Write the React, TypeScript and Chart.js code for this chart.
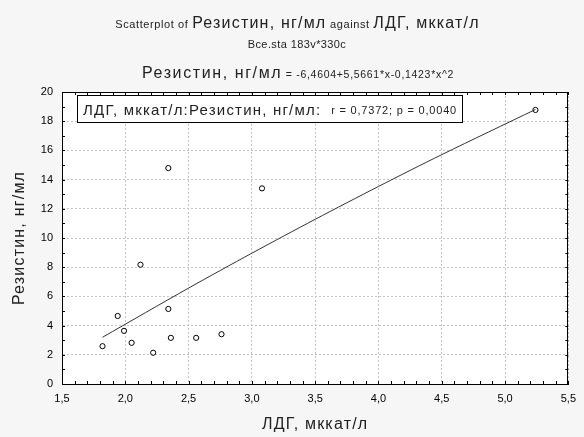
import React, { useEffect, useRef } from 'react';
import { Chart, registerables } from 'chart.js';

Chart.register(...registerables);

const FONT = '"Liberation Sans", Arial, sans-serif';

// Data
const ldgValues = [1.82, 1.94, 1.99, 2.05, 2.12, 2.22, 2.34, 2.34, 2.36, 2.56, 2.76, 3.08, 5.24];
const rezistinValues = [2.59, 4.66, 3.64, 2.82, 8.17, 2.14, 14.79, 5.14, 3.16, 3.16, 3.41, 13.4, 18.77];
const fitX = [1.82, 2.5, 3.0, 3.5, 4.0, 4.5, 5.24];
const fitY = [3.2, 6.57, 8.96, 11.28, 13.53, 15.71, 18.8];
const xTickValues = [1.5, 2.0, 2.5, 3.0, 3.5, 4.0, 4.5, 5.0, 5.5];
const yTickValues = [0, 2, 4, 6, 8, 10, 12, 14, 16, 18, 20];

const xTitle = 'ЛДГ, мккат/л';
const yTitle = 'Резистин, нг/мл';

type Seg = { text: string; size: number; ls: number; sx?: number };

const titleLine1: Seg[] = [
  { text: 'Scatterplot of ', size: 11, ls: 0.6 },
  { text: 'Резистин, нг/мл', size: 16, ls: 1.2 },
  { text: ' against ', size: 11, ls: 0.6 },
  { text: 'ЛДГ, мккат/л', size: 16, ls: 1.2 },
];
const titleLine2: Seg[] = [{ text: 'Bce.sta 183v*330c', size: 11, ls: 0.4 }];
const titleLine3: Seg[] = [
  { text: 'Резистин, нг/мл', size: 16, ls: 1.6 },
  { text: ' = -6,4604+5,5661*x-0,1423*x^2', size: 10.5, ls: 0.7 },
];
const legendMain: Seg[] = [{ text: 'ЛДГ, мккат/л:Резистин, нг/мл:', size: 15, ls: 1.2 }];
const legendStats: Seg[] = [{ text: 'r = 0,7372; p = 0,0040', size: 11, ls: 0.8 }];

const fmtComma = (v: number, d: number) => v.toFixed(d).replace('.', ',');

function setFont(ctx: any, s: Seg) {
  ctx.font = `${s.size}px ${FONT}`;
  ctx.letterSpacing = `${s.ls}px`;
}

function drawSegments(ctx: any, segs: Seg[], x0: number, baseline: number, align: 'center' | 'left' | 'right' = 'center') {
  let total = 0;
  const widths = segs.map((s) => {
    setFont(ctx, s);
    const w = ctx.measureText(s.text).width * (s.sx || 1);
    total += w;
    return w;
  });
  let x = align === 'center' ? x0 - total / 2 : align === 'right' ? x0 - total : x0;
  ctx.textBaseline = 'alphabetic';
  ctx.textAlign = 'left';
  segs.forEach((s, i) => {
    setFont(ctx, s);
    ctx.save();
    ctx.translate(x, baseline);
    ctx.scale(s.sx || 1, 1);
    ctx.fillText(s.text, 0, 0);
    ctx.restore();
    x += widths[i];
  });
  ctx.letterSpacing = '0px';
  return total;
}

const decorPlugin = {
  id: 'decor',
  beforeDraw(chart: any) {
    const { ctx, chartArea: a } = chart;
    ctx.save();
    ctx.fillStyle = '#f6f6f6';
    ctx.fillRect(0, 0, chart.width, chart.height);
    ctx.fillStyle = '#ffffff';
    ctx.fillRect(a.left, a.top, a.right - a.left, a.bottom - a.top);
    ctx.restore();
  },
  afterDraw(chart: any) {
    const { ctx, chartArea: a, scales } = chart;
    const xs = scales.x;
    const ys = scales.y;
    ctx.save();
    // frame
    ctx.strokeStyle = '#000';
    ctx.lineWidth = 1;
    ctx.beginPath();
    ctx.moveTo(a.left, Math.round(a.top) + 0.5);
    ctx.lineTo(a.right, Math.round(a.top) + 0.5);
    ctx.moveTo(Math.round(a.right) - 0.5, a.top);
    ctx.lineTo(Math.round(a.right) - 0.5, a.bottom);
    ctx.stroke();
    // inside ticks, all four sides
    ctx.beginPath();
    for (let i = 0; i <= 40; i++) {
      const v = 1.5 + i * 0.1;
      const px = Math.round(xs.getPixelForValue(v)) + 0.5;
      ctx.moveTo(px, a.bottom);
      ctx.lineTo(px, a.bottom - 3);
      ctx.moveTo(px, a.top);
      ctx.lineTo(px, a.top + 3);
    }
    for (let v = 0; v <= 20; v++) {
      const py = Math.round(ys.getPixelForValue(v)) + 0.5;
      ctx.moveTo(a.left, py);
      ctx.lineTo(a.left + 3, py);
      ctx.moveTo(a.right, py);
      ctx.lineTo(a.right - 3, py);
    }
    ctx.stroke();

    // titles
    ctx.fillStyle = '#222';
    drawSegments(ctx, titleLine1, 297.5, 28);
    drawSegments(ctx, titleLine2, 297, 48);
    drawSegments(ctx, titleLine3, 298, 78);

    // axis titles
    const axisSeg: Seg = { text: '', size: 16, ls: 1.2 };
    drawSegments(ctx, [{ ...axisSeg, text: xTitle }], (a.left + a.right) / 2, 429);
    ctx.save();
    ctx.translate(24, (a.top + a.bottom) / 2);
    ctx.rotate(-Math.PI / 2);
    drawSegments(ctx, [{ ...axisSeg, text: yTitle }], 0, 0);
    ctx.restore();

    // legend box
    const bx = 77, by = 95, bw = 385, bh = 27;
    ctx.fillStyle = '#fff';
    ctx.fillRect(bx, by, bw, bh);
    ctx.strokeStyle = '#000';
    ctx.strokeRect(bx + 0.5, by + 0.5, bw, bh);
    ctx.fillStyle = '#222';
    drawSegments(ctx, legendMain, bx + 6, by + 19.5, 'left');
    drawSegments(ctx, legendStats, bx + bw - 5, by + 18.5, 'right');
    ctx.restore();
  },
};

export default function App() {
  const ref = useRef<HTMLCanvasElement>(null);
  useEffect(() => {
    document.body.style.margin = '0';
    const canvas = ref.current;
    if (!canvas) return;
    const points = ldgValues.map((x, i) => ({ x, y: rezistinValues[i] }));
    const fit = fitX.map((x, i) => ({ x, y: fitY[i] }));
    const chart = new Chart(canvas, {
      type: 'scatter',
      data: {
        datasets: [
          {
            type: 'line',
            data: fit,
            borderColor: '#333',
            borderWidth: 1,
            pointRadius: 0,
            fill: false,
            tension: 0.3,
          } as any,
          {
            data: points,
            pointStyle: 'circle',
            pointRadius: 2.6,
            borderWidth: 1,
            borderColor: '#000',
            backgroundColor: 'rgba(255,255,255,0)',
          },
        ],
      },
      options: {
        responsive: false,
        animation: false,
        layout: { padding: { top: 92, right: 8, left: 0, bottom: 0 } },
        plugins: { legend: { display: false }, tooltip: { enabled: false } },
        scales: {
          x: {
            type: 'linear',
            min: 1.5,
            max: 5.5,
            afterBuildTicks: (s: any) => {
              s.ticks = xTickValues.map((value) => ({ value }));
            },
            afterFit: (s: any) => {
              s.height = 53;
            },
            ticks: {
              callback: (v: any) => fmtComma(Number(v), 1),
              font: { size: 11, family: FONT },
              color: '#000',
              padding: 8,
              maxRotation: 0,
              autoSkip: false,
            },
            grid: { color: '#c4c4c4', drawTicks: false, lineWidth: 1 },
            border: { display: true, color: '#000', dash: [2, 2] },
            title: { display: false, text: xTitle },
          },
          y: {
            type: 'linear',
            min: 0,
            max: 20,
            afterBuildTicks: (s: any) => {
              s.ticks = yTickValues.map((value) => ({ value }));
            },
            afterFit: (s: any) => {
              s.width = 62;
            },
            ticks: {
              callback: (v: any) => String(v),
              font: { size: 11, family: FONT },
              color: '#000',
              padding: 9,
              autoSkip: false,
            },
            grid: { color: '#c4c4c4', drawTicks: false, lineWidth: 1 },
            border: { display: true, color: '#000', dash: [2, 2] },
            title: { display: false, text: yTitle },
          },
        },
      },
      plugins: [decorPlugin],
    });
    return () => chart.destroy();
  }, []);
  return (
    <div style={{ width: 584, height: 437 }}>
      <canvas ref={ref} width={584} height={437} style={{ display: 'block' }} />
    </div>
  );
}
